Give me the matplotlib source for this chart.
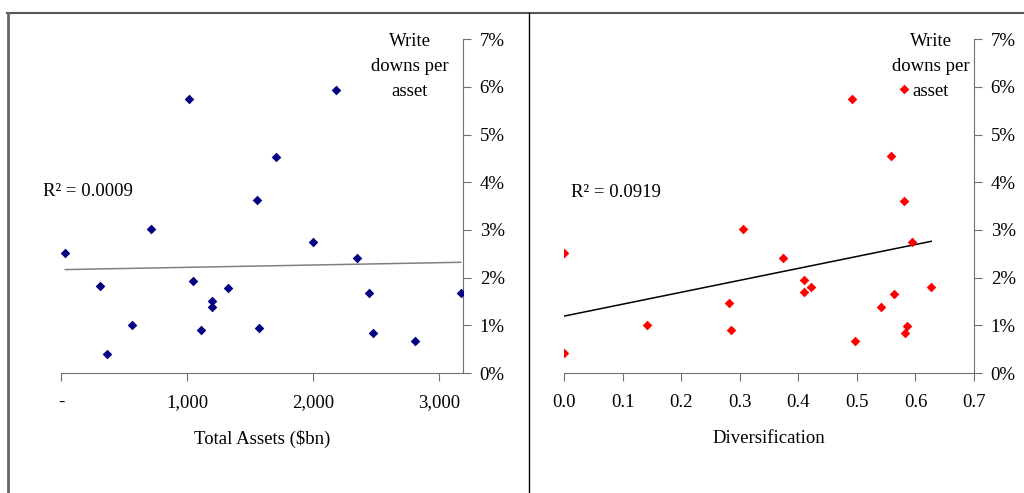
import numpy as np
import matplotlib
matplotlib.use("Agg")
import matplotlib.pyplot as plt
from matplotlib.lines import Line2D
from matplotlib.ticker import FuncFormatter

plt.rcParams['font.family'] = ['Liberation Serif', 'DejaVu Serif']

# Left panel: total assets ($bn) vs write downs per asset (%)
assets = [34, 312, 365, 561, 712, 1018, 1045, 1114, 1196, 1196, 1323,
          1558, 1574, 1709, 2003, 2185, 2352, 2444, 2479, 2810, 3172]
writedowns_a = [2.52, 1.82, 0.39, 1.01, 3.03, 5.74, 1.93, 0.90, 1.50, 1.38, 1.79,
                3.62, 0.94, 4.54, 2.74, 5.93, 2.41, 1.67, 0.83, 0.68, 1.67]

# Right panel: diversification vs write downs per asset (%)
diversification = [0.0, 0.0, 0.141, 0.282, 0.285, 0.306, 0.374, 0.409, 0.409, 0.421, 0.491,
                   0.497, 0.541, 0.559, 0.564, 0.580, 0.580, 0.582, 0.586, 0.594, 0.627]
writedowns_d = [2.52, 0.43, 1.01, 1.47, 0.90, 3.03, 2.42, 1.95, 1.69, 1.81, 5.74,
                0.68, 1.38, 4.55, 1.66, 3.60, 5.95, 0.83, 0.98, 2.75, 1.81]

r2_labels = ["R² = 0.0009", "R² = 0.0919"]
y_title = "Write\ndowns per\nasset"

FS = 13.5

fig = plt.figure(figsize=(10.24, 4.93), dpi=100)


def pct(v, pos):
    return "%d%%" % round(v)


def style_axis(ax):
    ax.spines['left'].set_visible(False)
    ax.spines['top'].set_visible(False)
    ax.spines['right'].set_color('#707070')
    ax.spines['bottom'].set_color('#707070')
    ax.yaxis.tick_right()
    ax.set_ylim(0, 7)
    ax.set_yticks(range(0, 8))
    ax.yaxis.set_major_formatter(FuncFormatter(pct))
    ax.tick_params(axis='both', direction='out', length=6, color='#707070',
                   labelsize=FS)
    ax.tick_params(axis='y', pad=6)
    ax.tick_params(axis='x', pad=9)


def trend(ax, x, y, color):
    x = np.asarray(x, dtype=float)
    y = np.asarray(y, dtype=float)
    m, b = np.polyfit(x, y, 1)
    xs = np.array([x.min(), x.max()])
    ax.plot(xs, m * xs + b, color=color, lw=1.1, zorder=2)


# left panel
ax1 = fig.add_axes([61 / 1024, 120 / 493, 402 / 1024, 333.7 / 493])
style_axis(ax1)
ax1.set_xlim(0, 3190)
ax1.set_xticks([0, 1000, 2000, 3000])
ax1.xaxis.set_major_formatter(FuncFormatter(lambda v, p: "-" if v == 0 else "{:,.0f}".format(v)))
ax1.scatter(assets, writedowns_a, marker='D', s=24, color='#000080', zorder=3, linewidths=0)
trend(ax1, assets, writedowns_a, '#7f7f7f')
ax1.set_xlabel("Total Assets ($bn)", fontsize=FS, labelpad=14)
ax1.text(0.867, 1.02, y_title, transform=ax1.transAxes, ha='center', va='top',
         fontsize=FS, linespacing=1.62)
ax1.text(-0.045, 0.545, r2_labels[0], transform=ax1.transAxes, ha='left', va='center',
         fontsize=FS)

# right panel
ax2 = fig.add_axes([564.3 / 1024, 120 / 493, 409.7 / 1024, 333.7 / 493])
style_axis(ax2)
ax2.set_xlim(0, 0.7)
ax2.set_xticks(np.arange(0, 0.71, 0.1))
ax2.xaxis.set_major_formatter(FuncFormatter(lambda v, p: "%.1f" % v))
ax2.scatter(diversification, writedowns_d, marker='D', s=24, color='#ff0000', zorder=3, linewidths=0)
trend(ax2, diversification, writedowns_d, '#000000')
ax2.set_xlabel("Diversification", fontsize=FS, labelpad=14)
ax2.text(0.895, 1.02, y_title, transform=ax2.transAxes, ha='center', va='top',
         fontsize=FS, linespacing=1.62)
ax2.text(0.016, 0.54, r2_labels[1], transform=ax2.transAxes, ha='left', va='center',
         fontsize=FS)

# frame lines around the panels
fig.add_artist(Line2D([7 / 1024, 1], [1 - 13 / 493, 1 - 13 / 493], color='#555555', lw=1.5))
fig.add_artist(Line2D([7.5 / 1024, 7.5 / 1024], [0, 1 - 13 / 493], color='#666666', lw=2))
fig.add_artist(Line2D([528.5 / 1024, 528.5 / 1024], [0, 1 - 13 / 493], color='#000000', lw=1))

fig.savefig("out.png", dpi=100)
